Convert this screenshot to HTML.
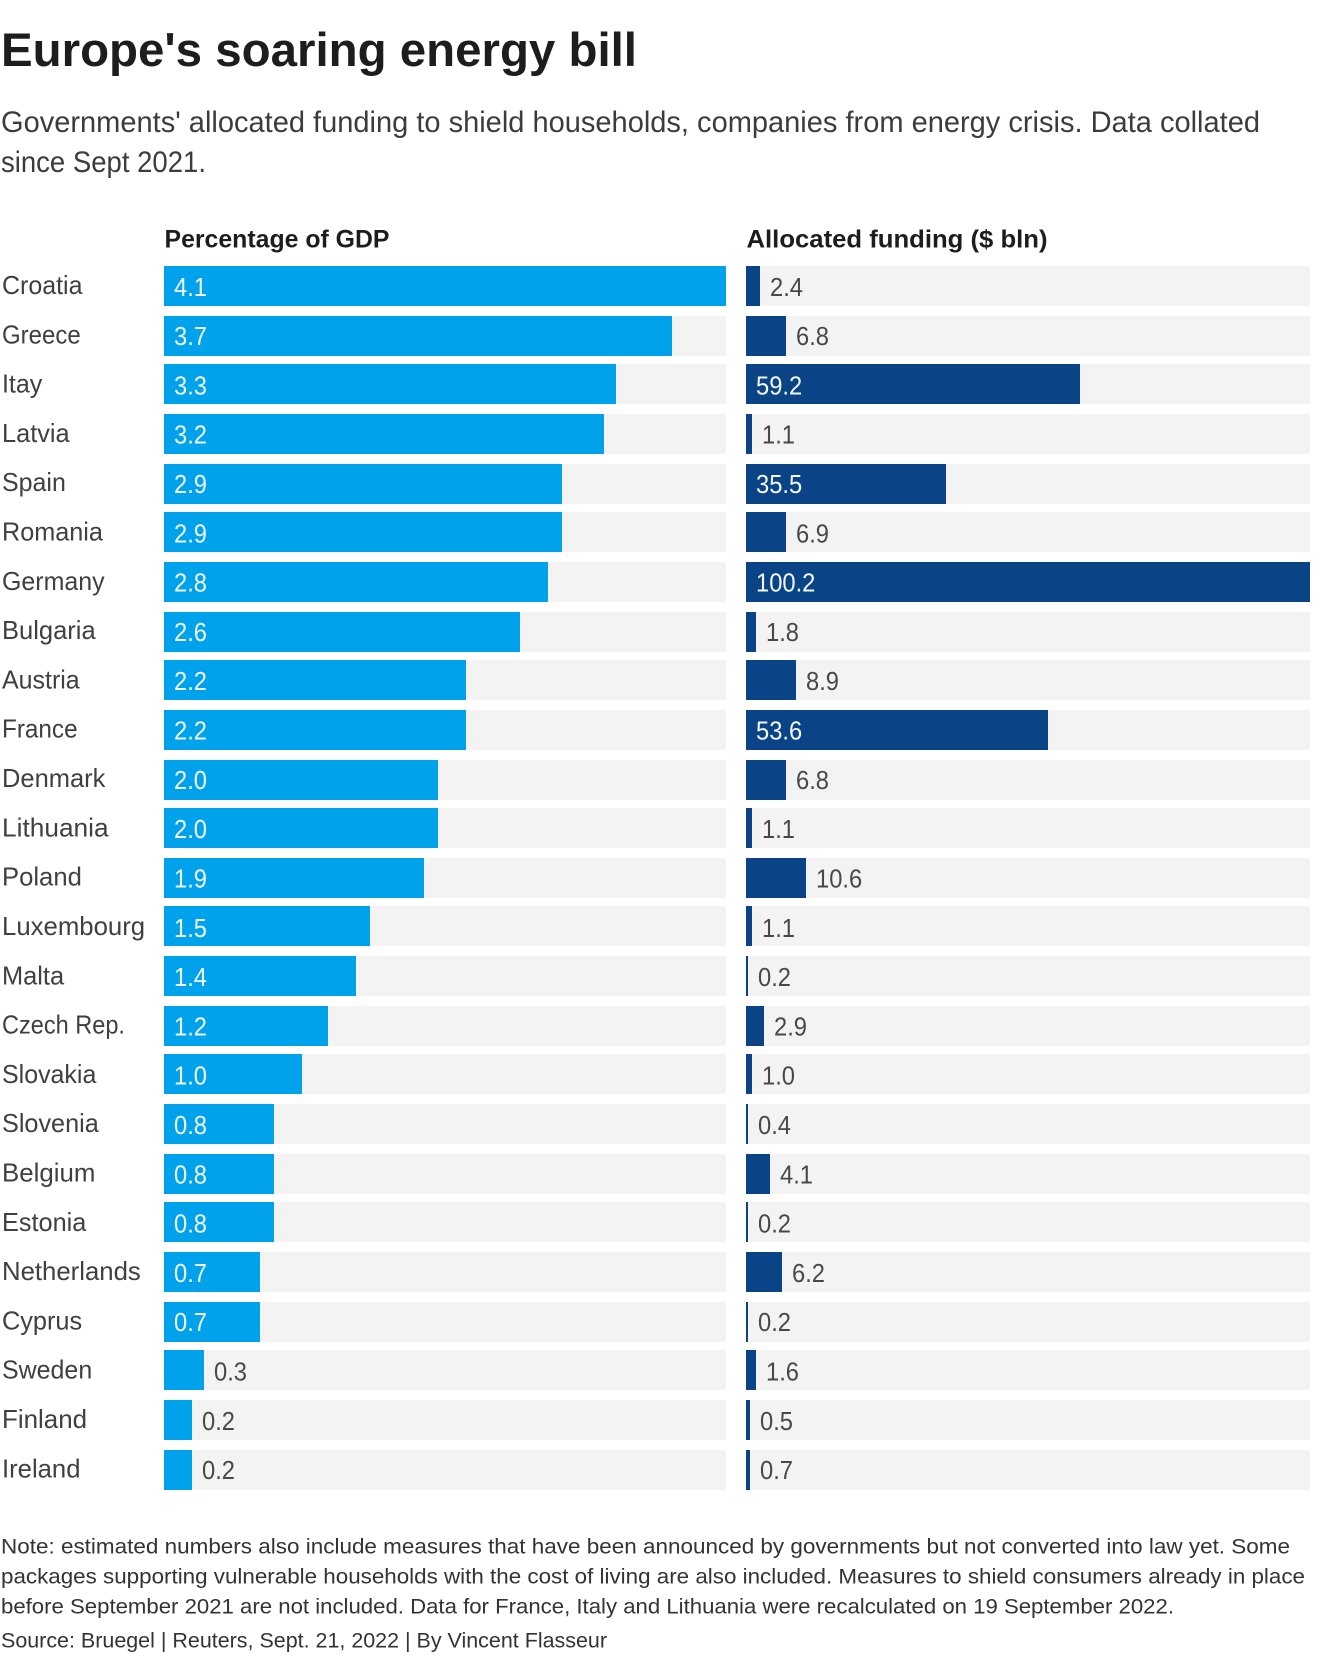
<!DOCTYPE html>
<html lang="en">
<head>
<meta charset="utf-8">
<title>Europe's soaring energy bill</title>
<style>
  html, body { margin: 0; padding: 0; background: #fff; }
  svg { display: block; }
  text { font-family: "Liberation Sans", sans-serif; }
  .title { font-size: 47px; font-weight: 700; fill: #1d1d1b; }
  .subtitle { font-size: 30px; fill: #3c3c3c; }
  .col-head { font-size: 25px; font-weight: 700; fill: #1d1d1b; }
  .country { font-size: 26px; fill: #404040; }
  .val { font-size: 25.5px; }
  .val-in { fill: #f2f8fc; }
  .val-out { fill: #484848; }
  .note { font-size: 21px; fill: #333; }
</style>
</head>
<body>
<svg id="chart" xmlns="http://www.w3.org/2000/svg" width="1320" height="1660" viewBox="0 0 1320 1660">
  <rect x="0" y="0" width="1320" height="1660" fill="#ffffff"></rect>
  <text class="title" x="1" y="66" textLength="636" lengthAdjust="spacingAndGlyphs">Europe's soaring energy bill</text>
  <text class="subtitle" x="1" y="132" textLength="1259" lengthAdjust="spacingAndGlyphs">Governments' allocated funding to shield households, companies from energy crisis. Data collated</text>
  <text class="subtitle" x="1" y="172" textLength="205" lengthAdjust="spacingAndGlyphs">since Sept 2021.</text>
  <text class="col-head" x="164.5" y="247.5" textLength="225" lengthAdjust="spacingAndGlyphs">Percentage of GDP</text>
  <text class="col-head" x="746.5" y="247.5" textLength="301" lengthAdjust="spacingAndGlyphs">Allocated funding ($ bln)</text>
  <g id="rows"></g>
  <text class="note" x="1" y="1553.5" textLength="1289" lengthAdjust="spacingAndGlyphs">Note: estimated numbers also include measures that have been announced by governments but not converted into law yet. Some</text>
  <text class="note" x="1" y="1583.5" textLength="1304" lengthAdjust="spacingAndGlyphs">packages supporting vulnerable households with the cost of living are also included. Measures to shield consumers already in place</text>
  <text class="note" x="1" y="1613.5" textLength="1173" lengthAdjust="spacingAndGlyphs">before September 2021 are not included. Data for France, Italy and Lithuania were recalculated on 19 September 2022.</text>
  <text class="note" x="1" y="1647.5" textLength="606" lengthAdjust="spacingAndGlyphs">Source: Bruegel | Reuters, Sept. 21, 2022 | By Vincent Flasseur</text>
</svg>
<script>
const countries = ["Croatia","Greece","Itay","Latvia","Spain","Romania","Germany","Bulgaria","Austria","France","Denmark","Lithuania","Poland","Luxembourg","Malta","Czech Rep.","Slovakia","Slovenia","Belgium","Estonia","Netherlands","Cyprus","Sweden","Finland","Ireland"];
const gdpShare = [4.1,3.7,3.3,3.21,2.9,2.9,2.8,2.6,2.2,2.2,2.0,2.0,1.9,1.5,1.4,1.2,1.0,0.8,0.8,0.8,0.7,0.7,0.29,0.2,0.2];
const funding = [2.4,6.8,59.2,1.1,35.5,6.9,100.2,1.8,8.9,53.6,6.8,1.1,10.6,1.1,0.2,2.9,1.0,0.4,4.1,0.2,6.2,0.2,1.6,0.5,0.7];

const NS = "http://www.w3.org/2000/svg";
const rowsLayer = document.getElementById("rows");
const ROW_TOP = 266, ROW_STEP = 49.305, BAR_H = 40;
const LEFT = { x0: 164, width: 562, fill: "#00a2eb", insideMin: 0.5, bias: 0 };
const RIGHT = { x0: 746, width: 564, fill: "#0a4486", insideMin: 20, bias: 0.37 };
LEFT.max = Math.max.apply(null, gdpShare);
RIGHT.max = Math.max.apply(null, funding);

/* horizontal fit of each country label's glyphs, so Liberation Sans occupies the reference width */
const LABEL_FIT = {
  "Croatia": .96, "Greece": .923, "Itay": .96, "Latvia": .975, "Spain": .96,
  "Romania": .97, "Germany": .96, "Bulgaria": .982, "Austria": .96, "France": .934,
  "Denmark": .98, "Lithuania": 1.01, "Poland": .986, "Luxembourg": .99, "Malta": .977,
  "Czech Rep.": .905, "Slovakia": .96, "Slovenia": .97, "Belgium": .994, "Estonia": .972,
  "Netherlands": .99, "Cyprus": .973, "Sweden": .96, "Finland": .997, "Ireland": .987
};

function yRaw(i) { return ROW_TOP + i * ROW_STEP; }
function ySnap(i) { return 2 * Math.round(yRaw(i) / 2); }
function barWidth(axis, v) {
  const w = (v / axis.max) * axis.width;
  return Math.max(2, 2 * Math.round(w / 2 + axis.bias));
}
function slug(s) { return s.toLowerCase().replace(/[^a-z]+/g, "-").replace(/-$/, ""); }

function condense(el, ratio) {
  const len = el.getComputedTextLength();
  el.setAttribute("textLength", (len * ratio).toFixed(2));
  el.setAttribute("lengthAdjust", "spacingAndGlyphs");
}

function drawBar(axis, key, i, v) {
  const y = ySnap(i);
  const name = slug(countries[i]);

  const track = document.createElementNS(NS, "rect");
  
  
  track.setAttribute("x", axis.x0);
  track.setAttribute("y", y);
  track.setAttribute("width", axis.width);
  track.setAttribute("height", BAR_H);
  track.setAttribute("fill", "#f3f3f3");
  rowsLayer.appendChild(track);

  const w = barWidth(axis, v);
  const bar = document.createElementNS(NS, "rect");
  
  
  bar.setAttribute("x", axis.x0);
  bar.setAttribute("y", y);
  bar.setAttribute("width", w);
  bar.setAttribute("height", BAR_H);
  bar.setAttribute("fill", axis.fill);
  rowsLayer.appendChild(bar);

  const inside = v >= axis.insideMin;
  const label = document.createElementNS(NS, "text");
  
  
  label.setAttribute("class", "val " + (inside ? "val-in" : "val-out"));
  label.setAttribute("x", inside ? axis.x0 + 10 : axis.x0 + w + 10);
  label.setAttribute("y", (yRaw(i) + 29.8).toFixed(1));
  label.textContent = v.toFixed(1);
  rowsLayer.appendChild(label);
  condense(label, 0.93);
}

countries.forEach(function (c, i) {
  const label = document.createElementNS(NS, "text");
  
  
  label.setAttribute("class", "country");
  label.setAttribute("x", 2);
  label.setAttribute("y", (yRaw(i) + 28).toFixed(1));
  label.textContent = c;
  rowsLayer.appendChild(label);
  condense(label, LABEL_FIT[c] || 0.96);

  drawBar(LEFT, "gdp", i, gdpShare[i]);
  drawBar(RIGHT, "funding", i, funding[i]);
});
</script>
</body>
</html>
